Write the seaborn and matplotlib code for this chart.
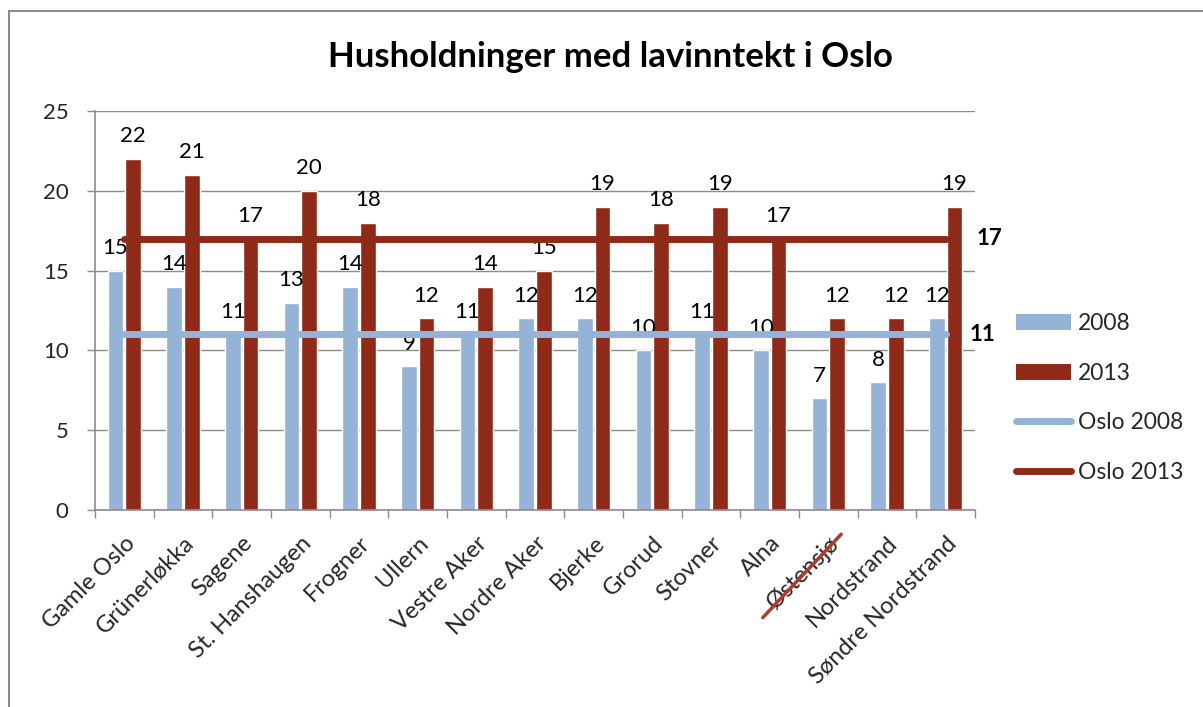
import matplotlib
matplotlib.use("Agg")
import matplotlib.pyplot as plt
import seaborn as sns
import pandas as pd
import numpy as np
from matplotlib.lines import Line2D
from matplotlib.patches import Patch, Rectangle

categories = ["Gamle Oslo", "Grünerløkka", "Sagene", "St. Hanshaugen", "Frogner",
              "Ullern", "Vestre Aker", "Nordre Aker", "Bjerke", "Grorud", "Stovner",
              "Alna", "Østensjø", "Nordstrand", "Søndre Nordstrand"]
values_2008 = [15, 14, 11, 13, 14, 9, 11, 12, 12, 10, 11, 10, 7, 8, 12]
values_2013 = [22, 21, 17, 20, 18, 12, 14, 15, 19, 18, 19, 17, 12, 12, 19]
oslo_2008 = 11
oslo_2013 = 17
series_names = ["2008", "2013"]
line_names = ["Oslo 2008", "Oslo 2013"]
yticks = [0, 5, 10, 15, 20, 25]
title = "Husholdninger med lavinntekt i Oslo"
struck_label = "Østensjø"

BLUE = "#95B3D7"
RED = "#8F2A19"
GRAY = "#8C8C8C"

sns.set_theme(style="white")
plt.rcParams['font.family'] = ['Lato', 'DejaVu Sans']

df = pd.DataFrame({
    "Bydel": categories * 2,
    "Serie": [series_names[0]] * len(categories) + [series_names[1]] * len(categories),
    "Andel": values_2008 + values_2013,
})

W, H = 1203, 707
fig = plt.figure(figsize=(W / 100, H / 100), dpi=100)
ax = fig.add_axes([95 / W, 1 - 510 / H, 880 / W, 399 / H])

sns.barplot(data=df, x="Bydel", y="Andel", hue="Serie", palette=[BLUE, RED],
            width=0.6, gap=0.1, saturation=1, ax=ax, legend=False, zorder=2)

FS = 16

# value labels
for cont in ax.containers:
    ax.bar_label(cont, labels=[f"{int(v)}" for v in cont.datavalues],
                 padding=9, fontsize=FS, color="black")

pos = np.arange(len(categories))
ax.plot(pos, [oslo_2008] * len(categories), color=BLUE, lw=5, zorder=3,
        solid_capstyle="round")
ax.plot(pos, [oslo_2013] * len(categories), color=RED, lw=5, zorder=3,
        solid_capstyle="round")
for val, off in ((oslo_2013, 22), (oslo_2008, 17)):
    ax.annotate(f"{val}", xy=(pos[-1], val), xytext=(off, 0), textcoords="offset points",
                ha="left", va="center", fontsize=FS, fontweight="bold", color="black")

ax.set_xlim(-0.5, len(categories) - 0.5)
ax.set_ylim(0, 25)
ax.set_yticks(yticks)
ax.set_xlabel("")
ax.set_ylabel("")
ax.yaxis.grid(True, color=GRAY, lw=1)
ax.set_axisbelow(True)
for s in ("top", "right"):
    ax.spines[s].set_visible(False)
for s in ("left", "bottom"):
    ax.spines[s].set_color(GRAY)
    ax.spines[s].set_linewidth(1.2)

ax.tick_params(axis="y", length=6, color=GRAY, width=1, pad=13, labelsize=FS, left=True)
ax.set_xticks(pos)
ax.set_xticklabels(categories, rotation=45, ha="right", rotation_mode="anchor",
                   fontsize=FS + 1)
ax.tick_params(axis="x", which="major", length=0, pad=16)
ax.set_xticks(np.arange(-0.5, len(categories), 1.0), minor=True)
ax.tick_params(axis="x", which="minor", length=6, color=GRAY, width=1, bottom=True)

handles = [Patch(facecolor=BLUE, edgecolor="none"),
           Patch(facecolor=RED, edgecolor="none"),
           Line2D([0], [0], color=BLUE, lw=5, solid_capstyle="round"),
           Line2D([0], [0], color=RED, lw=5, solid_capstyle="round")]
fig.legend(handles, series_names + line_names, loc="center left",
           bbox_to_anchor=(995 / W, 1 - 398 / H), frameon=False, fontsize=16.5,
           handlelength=2.4, handleheight=0.7, labelspacing=1.25, handletextpad=0.3)

fig.text(610 / W, 1 - 57 / H, title, ha="center", va="center", fontsize=25,
         fontweight="bold", color="black")

# outer chart border
fig.patches.append(Rectangle((9 / W, -0.1), 1.2, (1 - 11 / H) + 0.1,
                             transform=fig.transFigure, fill=False,
                             edgecolor=GRAY, lw=1.5, clip_on=False))

# strike-through over one label
fig.canvas.draw()
renderer = fig.canvas.get_renderer()
for lab in ax.get_xticklabels():
    if lab.get_text() == struck_label:
        bb = lab.get_window_extent(renderer)
        x0, y0, x1, y1 = bb.x0, bb.y0, bb.x1, bb.y1
        fig.add_artist(Line2D([x0 / W, (x1 - 2) / W],
                              [(y0 - 5) / H, (y1 - 2) / H],
                              transform=fig.transFigure, color="#B03A2E", lw=2.5))

fig.savefig("out.png", dpi=100)
